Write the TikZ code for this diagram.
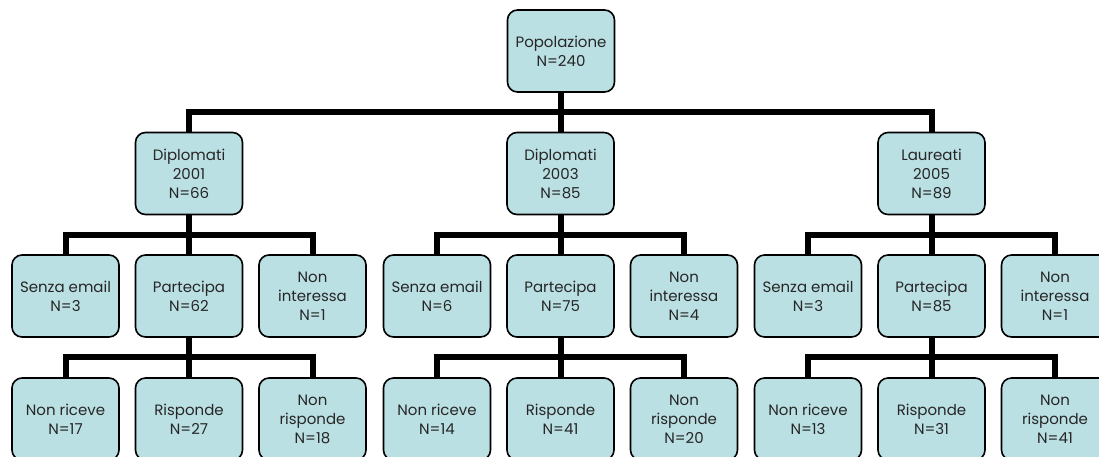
\documentclass[tikz,border=0pt]{standalone}
\usepackage{fontspec}
\setmainfont{Poppins}
\usetikzlibrary{backgrounds}
\definecolor{boxfill}{HTML}{BBE0E3}
\definecolor{txt}{HTML}{262626}
\tikzset{
  box/.style={draw=black, line width=1.6pt, fill=boxfill, rounded corners=10pt,
    minimum width=107pt, minimum height=82pt, inner sep=0pt, align=center,
    text=txt, font=\fontsize{15}{19}\selectfont},
  conn/.style={draw=black, line width=6pt}
}
\begin{document}
\begin{tikzpicture}[x=1pt,y=-1pt]
\useasboundingbox (0,0) rectangle (1099,456);
\clip (0,0) rectangle (1099,456);
\node[box] (pop) at (561,51) {Popolazione\\N=240};
% level 1
\node[box] (g1) at (189,173.5) {Diplomati\\2001\\N=66};
\node[box] (g2) at (560.5,173.5) {Diplomati\\2003\\N=85};
\node[box] (g3) at (931.5,173.5) {Laureati\\2005\\N=89};
% level 2
\node[box] (g1s) at (65.5,296) {Senza email\\N=3};
\node[box] (g1p) at (189,296) {Partecipa\\N=62};
\node[box] (g1n) at (312.5,296) {Non\\interessa\\N=1};
\node[box] (g2s) at (437,296) {Senza email\\N=6};
\node[box] (g2p) at (560.5,296) {Partecipa\\N=75};
\node[box] (g2n) at (684,296) {Non\\interessa\\N=4};
\node[box] (g3s) at (808,296) {Senza email\\N=3};
\node[box] (g3p) at (931.5,296) {Partecipa\\N=85};
\node[box] (g3n) at (1055,296) {Non\\interessa\\N=1};
% level 3
\node[box] (g1a) at (65.5,419) {Non riceve\\N=17};
\node[box] (g1b) at (189,419) {Risponde\\N=27};
\node[box] (g1c) at (312.5,419) {Non\\risponde\\N=18};
\node[box] (g2a) at (437,419) {Non riceve\\N=14};
\node[box] (g2b) at (560.5,419) {Risponde\\N=41};
\node[box] (g2c) at (684,419) {Non\\risponde\\N=20};
\node[box] (g3a) at (808,419) {Non riceve\\N=13};
\node[box] (g3b) at (931.5,419) {Risponde\\N=31};
\node[box] (g3c) at (1055,419) {Non\\risponde\\N=41};
\coordinate (b1) at (0,112);
\coordinate (b2) at (0,235);
\coordinate (b3) at (0,357);
\begin{scope}[on background layer]
\foreach \c in {g1,g2,g3}
  \draw[conn] (pop.south) -- (pop.south |- b1) -| (\c.north);
\foreach \p in {g1,g2,g3}{
  \foreach \c in {s,p,n}
    \draw[conn] (\p.south) -- (\p.south |- b2) -| (\p\c.north);
  \foreach \c in {a,b,c}
    \draw[conn] (\p p.south) -- (\p p.south |- b3) -| (\p\c.north);
}
\end{scope}
\end{tikzpicture}
\end{document}
